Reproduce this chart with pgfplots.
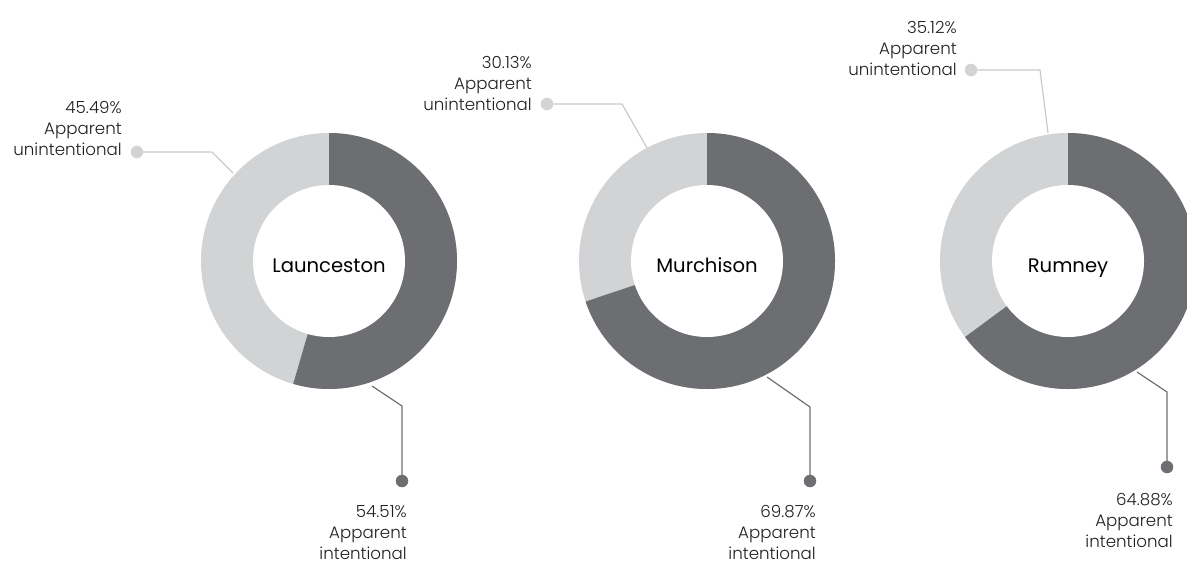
\documentclass[border=0pt]{standalone}
\usepackage{pgfplots}
\pgfplotsset{compat=1.18}
\usepackage{fontspec}
\setmainfont{Poppins}
\IfFontExistsTF{Poppins Light}{\newfontfamily\lightfont{Poppins Light}}{\newfontfamily\lightfont{Poppins}}
\definecolor{dark}{HTML}{6D6E71}
\definecolor{light}{HTML}{D1D3D4}
\definecolor{lline}{HTML}{C9CACC}
\definecolor{txt}{HTML}{231F20}
% cx, cy, dark share (%), name
\newcommand{\donut}[4]{%
 \fill[light] (axis cs:#1,#2) circle[radius=96pt];
 \fill[dark] (axis cs:#1,#2) -- ++(90:96pt) arc[start angle=90,end angle={90-3.6*#3},radius=96pt] -- cycle;
 \fill[white] (axis cs:#1,#2) circle[radius=57pt];
 \node[anchor=base, font=\fontsize{14.7}{17}\selectfont, text=black, inner sep=0pt] at (axis cs:#1,{#2+11}) {#4};
}
% right x, first baseline y, three lines
\newcommand{\lab}[5]{%
 \node[anchor=base east, inner sep=0pt, text=txt, font=\lightfont\fontsize{12.5}{15}\selectfont] at (axis cs:#1,#2) {#3};
 \node[anchor=base east, inner sep=0pt, text=txt, font=\lightfont\fontsize{12.5}{15}\selectfont] at (axis cs:#1,{#2+21}) {#4};
 \node[anchor=base east, inner sep=0pt, text=txt, font=\lightfont\fontsize{12.5}{15}\selectfont] at (axis cs:#1,{#2+42}) {#5};
}
\begin{document}
\begin{tikzpicture}
\begin{axis}[
  x=0.75pt, y=0.75pt, y dir=reverse,
  xmin=0, xmax=1187, ymin=0, ymax=565,
  hide axis, clip=true, scale only axis,
]
% leader lines
\addplot[lline, line width=0.9pt] coordinates {(137,152) (212,152) (233,173)};
\addplot[dark, line width=0.9pt] coordinates {(372,386) (402,406) (402,481)};
\addplot[lline, line width=0.9pt] coordinates {(547,104) (622,104) (647,148)};
\addplot[dark, line width=0.9pt] coordinates {(767,377) (810,407) (810,481)};
\addplot[lline, line width=0.9pt] coordinates {(971,70) (1040,70) (1048,133)};
\addplot[dark, line width=0.9pt] coordinates {(1137,372) (1167,392) (1167,467)};
% donuts (dark share = Apparent intentional)
\donut{329}{261}{54.51}{Launceston}
\donut{707}{261}{69.87}{Murchison}
\donut{1068}{261}{64.88}{Rumney}
% dots
\addplot[only marks, mark=*, mark size=4.5pt, color=light] coordinates {(137,152) (547,104) (971,70)};
\addplot[only marks, mark=*, mark size=4.5pt, color=dark] coordinates {(402,481) (810,481) (1167,467)};
% labels
\lab{122}{113}{45.49\%}{Apparent}{unintentional}
\lab{407}{517}{54.51\%}{Apparent}{intentional}
\lab{532}{68}{30.13\%}{Apparent}{unintentional}
\lab{816}{517}{69.87\%}{Apparent}{intentional}
\lab{957}{33}{35.12\%}{Apparent}{unintentional}
\lab{1173}{505}{64.88\%}{Apparent}{intentional}
\end{axis}
\pgfresetboundingbox
\useasboundingbox (current axis.south west) rectangle (current axis.north east);
\end{tikzpicture}
\end{document}
